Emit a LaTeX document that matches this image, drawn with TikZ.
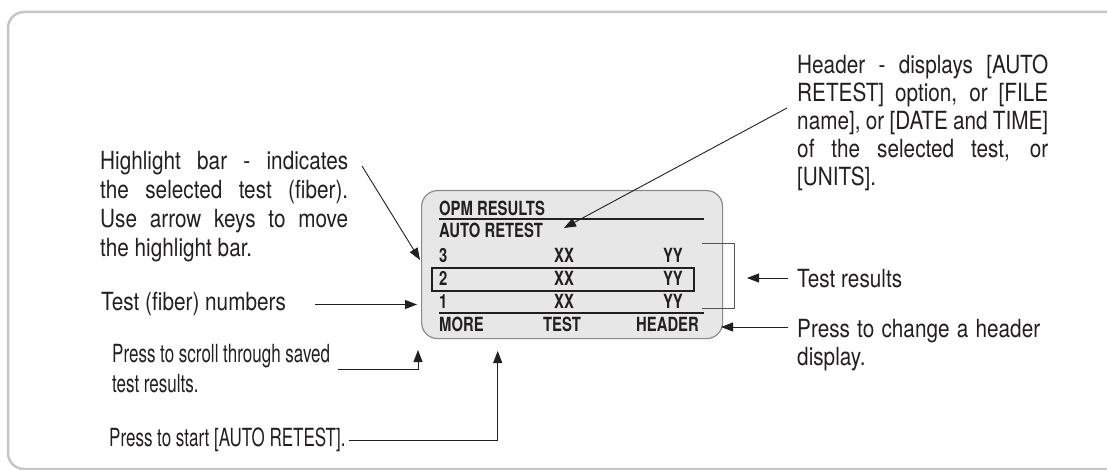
\documentclass[tikz,border=0pt]{standalone}
\usepackage{fontspec}
\setmainfont{TeX Gyre Heros}
\newfontfamily\labfont[FakeStretch=0.83]{TeX Gyre Heros}
\newfontfamily\labtight[FakeStretch=0.68]{TeX Gyre Heros}
\newfontfamily\scrfont[FakeStretch=0.76]{TeX Gyre Heros}
\usetikzlibrary{arrows.meta}
\definecolor{ink}{HTML}{231F20}
\definecolor{framegray}{HTML}{C6C6C6}
\definecolor{screenfill}{HTML}{E7E7E8}
\definecolor{screenedge}{HTML}{8A8A8A}
\definecolor{brackgray}{HTML}{555555}
% row struts: exact line pitch
\newcommand\pitchA{\rule[-9pt]{0pt}{29pt}}
\newcommand\pitchB{\rule[-8.5pt]{0pt}{28pt}}
\newcommand\pitchC{\rule[-9pt]{0pt}{30pt}}
\newenvironment{linestack}{\renewcommand\arraystretch{0}\begin{tabular}[t]{@{}l@{}}}{\end{tabular}}
\begin{document}
\begin{tikzpicture}[x=1pt,y=1pt,
  lab/.style={font=\labfont\fontsize{25}{29}\selectfont, text=ink, inner sep=0pt, anchor=base west},
  tightlab/.style={font=\labtight\fontsize{25}{30}\selectfont, text=ink, inner sep=0pt, anchor=base west},
  scr/.style={font=\scrfont\bfseries\fontsize{19.5}{22}\selectfont, text=ink, inner sep=0pt},
  conn/.style={draw=ink, line width=0.9pt, -{Triangle[length=12pt,width=9pt]}},
  scrline/.style={draw=ink, line width=1.8pt},
  brk/.style={draw=brackgray, line width=1pt}
]
\useasboundingbox (0,0) rectangle (1107,-470);
\clip (0,0) rectangle (1107,-470);
% outer frame
\draw[framegray, line width=2.5pt, rounded corners=16pt]
  (1140,-469) -- (8,-469) -- (8,-12) -- (1140,-12);

% screen
\node[draw=screenedge, fill=screenfill, line width=1.2pt, rounded corners=16pt,
  minimum width=301pt, minimum height=148pt, inner sep=0pt, anchor=north west]
  (screen) at (421,-190) {};
\draw[scrline] (439,-219) -- (704,-219);
\draw[scrline] (439,-313) -- (704,-313);
\node[draw=ink, line width=2.2pt, minimum width=262pt, minimum height=23pt,
  inner sep=0pt, anchor=north west] (hlbar) at (431,-267) {};

\node[scr, anchor=base west] (opm) at (439,-215) {OPM RESULTS};
\node[scr, anchor=base west] (auto) at (439,-237) {AUTO RETEST};
\node[scr, anchor=base west] (n3) at (439,-262) {3};
\node[scr, anchor=base] (x3) at (564,-262) {XX};
\node[scr, anchor=base east] (y3) at (683,-262) {YY};
\node[scr, anchor=base west] (n2) at (439,-285) {2};
\node[scr, anchor=base] (x2) at (564,-285) {XX};
\node[scr, anchor=base east] (y2) at (683,-285) {YY};
\node[scr, anchor=base west] (n1) at (439,-308) {1};
\node[scr, anchor=base] (x1) at (564,-308) {XX};
\node[scr, anchor=base east] (y1) at (683,-308) {YY};
\node[scr, anchor=base west] (more) at (439,-331) {MORE};
\node[scr, anchor=base] (test) at (562,-331) {TEST};
\node[scr, anchor=base east] (header) at (699,-331) {HEADER};

% labels (anchored at the baseline of their first line)
\node[lab] (hlText) at (100,-170)
  {\begin{linestack}
   \pitchA\makebox[248pt][s]{Highlight bar - indicates}\\
   \pitchA\makebox[248pt][s]{the selected test (fiber).}\\
   \pitchA\makebox[248pt][s]{Use arrow keys to move}\\
   \pitchA the highlight bar.
   \end{linestack}};
\node[lab] (fibText) at (101,-310) {Test (fiber) numbers};
\node[lab] (hdrText) at (797,-73.3)
  {\begin{linestack}
   \pitchB\makebox[251pt][s]{Header - displays [AUTO}\\
   \pitchB\makebox[251pt][s]{RETEST] option, or [FILE}\\
   \pitchB\makebox[251pt][s]{name], or [DATE and TIME]}\\
   \pitchB\makebox[251pt][s]{of the selected test, or}\\
   \pitchB[UNITS].
   \end{linestack}};
\node[lab] (resText) at (797,-287) {Test results};
\node[lab] (chgText) at (797,-337)
  {\begin{linestack}
   \pitchB\makebox[243pt][s]{Press to change a header}\\
   \pitchB display.
   \end{linestack}};
\node[tightlab] (scrText) at (112,-362)
  {\begin{linestack}
   \pitchC Press to scroll through saved\\
   \pitchC test results.
   \end{linestack}};
\node[tightlab] (startText) at (109,-446) {Press to start [AUTO RETEST].};

% connector end points
\coordinate (hlStart) at (362,-166);
\coordinate (hlTip) at (420,-260);
\coordinate (fibStart) at (315,-304.5);
\coordinate (fibTip) at (417,-304.5);
\coordinate (hdrStart) at (787,-108);
\coordinate (hdrTip) at (564,-228);
\coordinate (resStart) at (788,-278);
\coordinate (resTip) at (747,-278);
\coordinate (chgStart) at (788,-327);
\coordinate (chgTip) at (721,-327);
\coordinate (scrStart) at (338,-369);
\coordinate (scrTip) at (418,-350);
\coordinate (stStart) at (349,-440);
\coordinate (stTip) at (497.7,-351);
\coordinate (brA) at (702,-243);
\coordinate (brB) at (734.5,-243);
\coordinate (brC) at (734.5,-308);
\coordinate (brD) at (702,-308);

\draw[conn] (hlStart) -- (hlTip);
\draw[conn] (fibStart) -- (fibTip);
\draw[conn] (hdrStart) -- (hdrTip);
\draw[conn] (resStart) -- (resTip);
\draw[conn] (chgStart) -- (chgTip);
\draw[conn] (scrStart) -| (scrTip);
\draw[conn] (stStart) -| (stTip);
\draw[brk] (brA) -- (brB) -- (brC) -- (brD);
\end{tikzpicture}
\end{document}
